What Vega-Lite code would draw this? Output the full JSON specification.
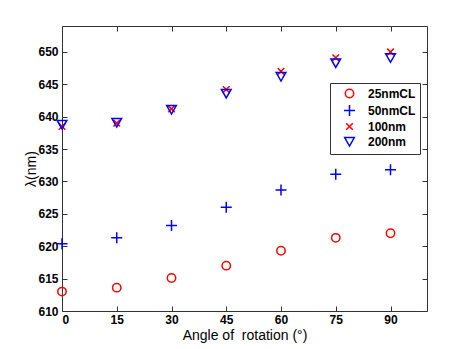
{
  "$schema": "https://vega.github.io/schema/vega-lite/v6.json",
  "width": 365,
  "height": 285,
  "autosize": {"type": "none"},
  "padding": {"left": 62, "top": 26, "right": 45, "bottom": 38},
  "background": "white",
  "config": {
    "font": "Liberation Sans",
    "view": {"stroke": "#333333", "strokeWidth": 1},
    "axis": {
      "grid": false,
      "domain": false,
      "tickColor": "#333333",
      "tickSize": -5,
      "labelFont": "Liberation Sans",
      "labelFontSize": 12,
      "labelFontWeight": "bold",
      "labelColor": "#000000",
      "titleFont": "Liberation Sans",
      "titleFontSize": 14,
      "titleFontWeight": "normal",
      "titleColor": "#000000"
    },
    "legend": {
      "labelFont": "Liberation Sans",
      "labelFontSize": 12,
      "labelFontWeight": "bold",
      "labelColor": "#000000"
    }
  },
  "data": {
    "values": [
      {"angle": 0, "lambda": 613.0, "series": "25nmCL"},
      {"angle": 15, "lambda": 613.6, "series": "25nmCL"},
      {"angle": 30, "lambda": 615.1, "series": "25nmCL"},
      {"angle": 45, "lambda": 617.0, "series": "25nmCL"},
      {"angle": 60, "lambda": 619.3, "series": "25nmCL"},
      {"angle": 75, "lambda": 621.3, "series": "25nmCL"},
      {"angle": 90, "lambda": 622.0, "series": "25nmCL"},
      {"angle": 0, "lambda": 620.4, "series": "50nmCL"},
      {"angle": 15, "lambda": 621.3, "series": "50nmCL"},
      {"angle": 30, "lambda": 623.2, "series": "50nmCL"},
      {"angle": 45, "lambda": 626.0, "series": "50nmCL"},
      {"angle": 60, "lambda": 628.7, "series": "50nmCL"},
      {"angle": 75, "lambda": 631.1, "series": "50nmCL"},
      {"angle": 90, "lambda": 631.8, "series": "50nmCL"},
      {"angle": 0, "lambda": 638.5, "series": "100nm"},
      {"angle": 15, "lambda": 639.0, "series": "100nm"},
      {"angle": 30, "lambda": 641.2, "series": "100nm"},
      {"angle": 45, "lambda": 644.2, "series": "100nm"},
      {"angle": 60, "lambda": 647.0, "series": "100nm"},
      {"angle": 75, "lambda": 649.1, "series": "100nm"},
      {"angle": 90, "lambda": 650.0, "series": "100nm"},
      {"angle": 0, "lambda": 638.8, "series": "200nm"},
      {"angle": 15, "lambda": 639.1, "series": "200nm"},
      {"angle": 30, "lambda": 641.1, "series": "200nm"},
      {"angle": 45, "lambda": 643.6, "series": "200nm"},
      {"angle": 60, "lambda": 646.2, "series": "200nm"},
      {"angle": 75, "lambda": 648.3, "series": "200nm"},
      {"angle": 90, "lambda": 649.1, "series": "200nm"}
    ]
  },
  "layer": [
    {
      "mark": {"type": "point", "filled": false, "strokeWidth": 1.5, "opacity": 1, "size": 121},
      "encoding": {
        "x": {
          "field": "angle", "type": "quantitative",
          "scale": {"domain": [0, 100], "nice": false, "zero": false},
          "axis": {"orient": "bottom", "values": [0, 15, 30, 45, 60, 75, 90], "title": "Angle of\u00a0 rotation (°)", "labelPadding": 8, "titlePadding": 3}
        },
        "y": {
          "field": "lambda", "type": "quantitative",
          "scale": {"domain": [610, 654], "nice": false, "zero": false},
          "axis": {"orient": "left", "values": [610, 615, 620, 625, 630, 635, 640, 645, 650], "title": "λ(nm)", "labelPadding": 9, "titlePadding": -1}
        },
        "color": {
          "field": "series", "type": "nominal",
          "scale": {"domain": ["25nmCL", "50nmCL", "100nm", "200nm"], "range": ["#ff0000", "#0000ff", "#ff0000", "#0000ff"]},
          "legend": {
            "orient": "none", "legendX": 268, "legendY": 57, "title": null,
            "strokeColor": "#333333", "fillColor": "white",
            "padding": 4, "rowPadding": 1, "labelOffset": 12, "symbolOffset": 9,
            "symbolStrokeWidth": 1.5, "symbolSize": 121
          }
        },
        "shape": {
          "field": "series", "type": "nominal",
          "scale": {"domain": ["25nmCL", "50nmCL", "100nm", "200nm"], "range": [
            "M0.76,0A0.76,0.76 0 1,1 -0.76,0A0.76,0.76 0 1,1 0.76,0Z",
            "M-1,0H1M0,-1V1",
            "M-0.6,-0.6L0.6,0.6M0.6,-0.6L-0.6,0.6",
            "M-0.88,-0.72L0.88,-0.72L0,0.82Z"
          ]}
        }
      }
    },
    {
      "mark": {"type": "point", "opacity": 0},
      "encoding": {
        "x": {
          "field": "angle", "type": "quantitative",
          "axis": {"orient": "top", "values": [0, 15, 30, 45, 60, 75, 90], "labels": false, "title": null}
        },
        "y": {
          "field": "lambda", "type": "quantitative",
          "axis": {"orient": "right", "values": [610, 615, 620, 625, 630, 635, 640, 645, 650], "labels": false, "title": null}
        }
      }
    }
  ],
  "resolve": {"axis": {"x": "independent", "y": "independent"}}
}
